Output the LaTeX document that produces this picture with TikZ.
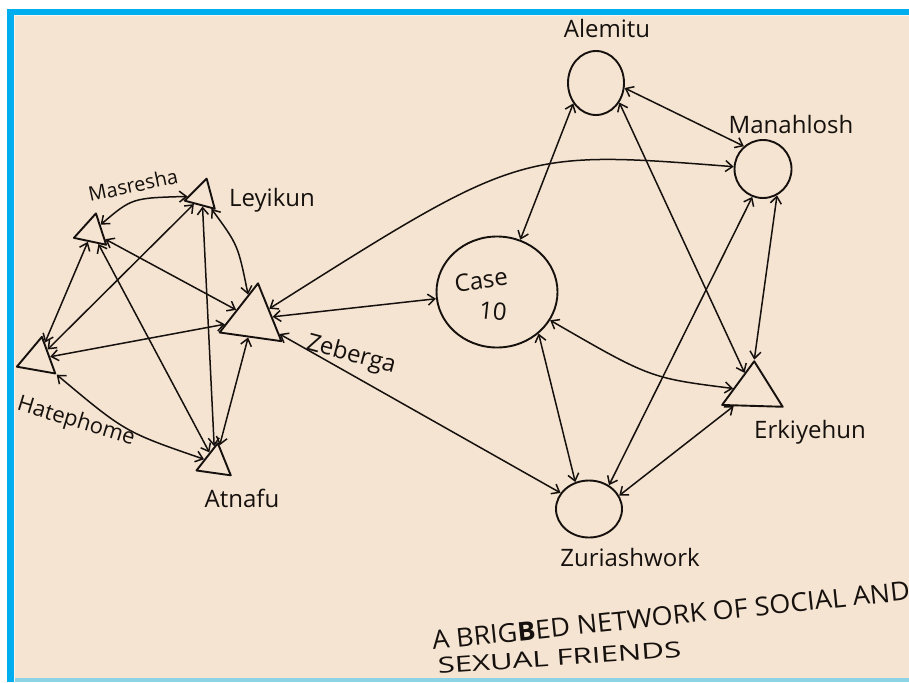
\documentclass[tikz,border=0pt]{standalone}
\usepackage{fontspec}
\setmainfont{Open Sans}
\usetikzlibrary{shapes.geometric,arrows.meta}

\definecolor{paper}{HTML}{F4E4D1}
\definecolor{frameblue}{HTML}{00AEEF}
\definecolor{edgecyan}{HTML}{8CD3E6}
\definecolor{ink}{HTML}{16110E}

\begin{document}
\begin{tikzpicture}[x=1pt,y=-1pt,
  man/.style={regular polygon, regular polygon sides=3, draw=ink, line width=1.9pt, inner sep=0pt, line join=round},
  woman/.style={ellipse, draw=ink, line width=1.9pt, inner sep=0pt},
  tie/.style={draw=ink, line width=1.5pt, line cap=round,
    {Straight Barb[length=7pt,width=11pt]}-{Straight Barb[length=7pt,width=11pt]}},
  who/.style={font=\fontsize{24}{26}\selectfont, text=ink, inner sep=0pt},
  caption/.style={font=\fontsize{26}{28}\selectfont, text=ink, inner sep=0pt, anchor=base west},
]
\useasboundingbox (0,0) rectangle (909,682);

% page frame
\fill[white] (0,0) rectangle (909,682);
\fill[frameblue] (7,9) rectangle (909,682);
\fill[white!60!paper] (14,15) rectangle (909,682);
\fill[paper] (15,16) rectangle (909,678);
\fill[edgecyan] (15,678) rectangle (909,682);

\begin{scope}
\clip (15,16) rectangle (909,678);

% women (circles)
\node[woman, minimum width=56pt, minimum height=64pt] (alem) at (596,83) {};
\node[woman, minimum width=57pt, minimum height=58pt] (mana) at (763,169) {};
\node[woman, minimum width=121pt, minimum height=111pt] (case) at (497,292) {};
\node[woman, minimum width=66pt, minimum height=57pt] (zuri) at (589,509) {};

% men (triangles)
\node[man, minimum size=72pt, rotate=-8] (zebe) at (253,319) {};
\node[man, minimum size=36pt, rotate=-15] (leyi) at (202,196) {};
\node[man, minimum size=38pt, rotate=-12] (masr) at (92,232) {};
\node[man, minimum size=45pt, rotate=-10] (hate) at (38,359) {};
\node[man, minimum size=40pt, rotate=-8] (atna) at (215,463) {};
\node[man, minimum size=70pt, yscale=0.85, rotate=-2] (erki) at (753,391) {};

% names
\node[who] (n-alem) at (607,29) {Alemitu};
\node[who] (n-mana) at (791,124) {Manahlosh};
\node[who] (n-leyi) at (272,200) {Leyikun};
\node[who, font=\fontsize{20}{22}\selectfont, rotate=12] (n-masr) at (133,185) {Masresha};
\node[who, rotate=-15] (n-zebe) at (351,355) {Zeberga};
\node[who, font=\fontsize{22}{24}\selectfont, rotate=-17] (n-hate) at (76,422) {Hatephome};
\node[who] (n-atna) at (242,498) {Atnafu};
\node[who] (n-zuri) at (630,557) {Zuriashwork};
\node[who] (n-erki) at (810,432) {Erkiyehun};
\node[who, rotate=8] (n-case) at (481,280) {Case};
\node[who, rotate=-6] (n-ten) at (493,311) {10};

% ties inside the left group
\draw[tie] (masr) .. controls (132,198) .. (leyi);
\draw[tie] (masr) -- (zebe);
\draw[tie] (masr) -- (hate);
\draw[tie] (masr) -- (atna);
\draw[tie] (leyi) -- (hate);
\draw[tie] (leyi) -- (atna);
\draw[tie] (leyi) .. controls (238,245) .. (zebe);
\draw[tie] (zebe) -- (hate);
\draw[tie] (zebe) -- (atna);
\draw[tie] (hate) .. controls (125,432) .. (atna);

% bridges from Zeberga
\draw[tie] (zebe) .. controls (520,150) .. (mana);
\draw[tie] (zebe) -- (case);
\draw[tie] (zebe) -- (zuri);

% ties inside the right group
\draw[tie] (alem.-138) -- (case.66);
\draw[tie] (alem.-10) -- (mana.130);
\draw[tie] (alem.-40) -- (erki);
\draw[tie] (mana.-111) -- (zuri.50);
\draw[tie] (mana.-62) -- (erki.corner 1);
\draw[tie] (case.-28) .. controls (650,378) .. (erki);
\draw[tie] (case.-45) -- (zuri.117);
\draw[tie] (zuri.24) -- (erki);

% title
\node[caption, rotate=6, xscale=1.04] (title1) at (433,650) {A BRIG\textbf{B}ED NETWORK OF SOCIAL AND};
\node[caption, font=\fontsize{22}{24}\selectfont, rotate=4, xscale=1.42] (title2) at (438,674) {SEXUAL FRIENDS};
\end{scope}
\end{tikzpicture}
\end{document}
